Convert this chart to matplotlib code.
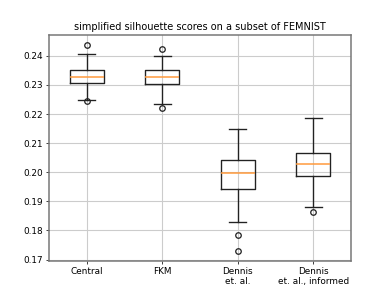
import matplotlib
matplotlib.use("Agg")
import matplotlib.pyplot as plt

labels = ["Central", "FKM", "Dennis\net. al.", "Dennis\net. al., informed"]
medians = [0.2329, 0.2326, 0.1997, 0.2027]
q1 = [0.2308, 0.2302, 0.1944, 0.1987]
q3 = [0.2350, 0.2350, 0.2041, 0.2067]
whislo = [0.2249, 0.2233, 0.1830, 0.1882]
whishi = [0.2408, 0.2398, 0.2147, 0.2185]
fliers = [[0.2436, 0.2245], [0.2422, 0.2222], [0.1784, 0.1731], [0.1862]]

stats = []
for i in range(len(labels)):
    stats.append({
        "label": labels[i],
        "med": medians[i],
        "q1": q1[i],
        "q3": q3[i],
        "whislo": whislo[i],
        "whishi": whishi[i],
        "fliers": fliers[i],
    })

fig, ax = plt.subplots(figsize=(390 / 61, 293 / 61), dpi=61)
line = dict(color="#222222", linewidth=1.6)
ax.bxp(
    stats,
    boxprops=line,
    whiskerprops=line,
    capprops=line,
    medianprops=dict(color="#ff9a3c", linewidth=1.8),
    flierprops=dict(markeredgecolor="#222222", markeredgewidth=1.5, markersize=6.5),
)
ax.set_title("simplified silhouette scores on a subset of FEMNIST", fontsize=11.5)
ax.grid(True, color="#cccccc", linewidth=1.3)
for s in ax.spines.values():
    s.set_color("#777777")
    s.set_linewidth(1.8)
ax.tick_params(labelsize=10.5, color="#444444", width=1.2)
fig.savefig("out.png", dpi=61)
